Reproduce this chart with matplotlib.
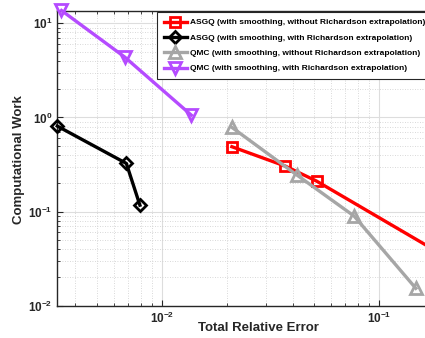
import math
import matplotlib
matplotlib.use("Agg")
import matplotlib.pyplot as plt
from matplotlib.ticker import LogLocator, FuncFormatter, NullFormatter

plt.rcParams['font.family'] = ['Liberation Sans', 'DejaVu Sans']
plt.rcParams['font.weight'] = 'bold'
plt.rcParams['mathtext.fontset'] = 'custom'
plt.rcParams['mathtext.rm'] = 'Liberation Sans:bold'
plt.rcParams['mathtext.bf'] = 'Liberation Sans:bold'
plt.rcParams['mathtext.it'] = 'Liberation Sans:bold'

# Data
asgq_err = [0.0210, 0.0369, 0.0515, 0.45]
asgq_work = [0.489, 0.305, 0.211, 0.0113]
asgq_rich_err = [0.0033, 0.00686, 0.00792]
asgq_rich_work = [0.81, 0.325, 0.117]
qmc_err = [0.0210, 0.0419, 0.0767, 0.1475]
qmc_work = [0.785, 0.244, 0.0896, 0.0153]
qmc_rich_err = [0.00345, 0.00674, 0.01365]
qmc_rich_work = [13.7, 4.39, 1.06]

labels = [
    "ASGQ (with smoothing, without Richardson extrapolation)",
    "ASGQ (with smoothing, with Richardson extrapolation)",
    "QMC (with smoothing, without Richardson extrapolation)",
    "QMC (with smoothing, with Richardson extrapolation)",
]
colors = ["#FF0000", "#000000", "#A6A6A6", "#B54BFF"]
markers = ["s", "D", "^", "v"]
msizes = [6.5, 6, 8, 8.5]

W, H = 425, 338
fig = plt.figure(figsize=(W / 100, H / 100), dpi=100)
left_px, right_px, top_px, bottom_px = 57.3, 531.0, 10.5, 305.7
ax = fig.add_axes([left_px / W, 1 - bottom_px / H,
                   (right_px - left_px) / W, (bottom_px - top_px) / H])

series = [(asgq_err, asgq_work), (asgq_rich_err, asgq_rich_work),
          (qmc_err, qmc_work), (qmc_rich_err, qmc_rich_work)]
for (x, y), lab, c, m, ms in zip(series, labels, colors, markers, msizes):
    ax.plot(x, y, color=c, marker=m, markersize=ms, markerfacecolor='none',
            markeredgewidth=2.0, linewidth=2.4, label=lab, clip_on=False, zorder=3)

ax.set_xscale('log')
ax.set_yscale('log')
ax.set_xlim(0.0033, 0.5)
ax.set_ylim(0.01, 13.7)

fmt = FuncFormatter(lambda v, p: r'$\mathbf{10^{%d}}$' % round(math.log10(v)))
ax.xaxis.set_major_locator(LogLocator(base=10, numticks=10))
ax.yaxis.set_major_locator(LogLocator(base=10, numticks=10))
ax.xaxis.set_major_formatter(fmt)
ax.yaxis.set_major_formatter(fmt)
ax.xaxis.set_minor_formatter(NullFormatter())
ax.yaxis.set_minor_formatter(NullFormatter())

ax.grid(True, which='major', color='#DDDDDD', linewidth=0.8, linestyle='-')
ax.grid(True, which='minor', color='#CCCCCC', linewidth=0.6, linestyle=(0, (1, 2)))
ax.set_axisbelow(True)
ax.tick_params(which='both', direction='in', top=True, right=True,
               colors='#262626', labelsize=8.5)
ax.tick_params(which='major', length=4, width=0.8)
ax.tick_params(which='minor', length=2.5, width=0.6)
for s in ax.spines.values():
    s.set_color('#262626')
    s.set_linewidth(1.0)

fig.text(258 / W, 1 - 328 / H, 'Total Relative Error', fontsize=9.5, fontweight='bold',
         color='#262626', ha='center', va='center')
fig.text(19 / W, 1 - 160 / H, 'Computational Work', fontsize=9.5, fontweight='bold',
         color='#262626', ha='center', va='center', rotation=90)

leg = ax.legend(loc='upper left', bbox_to_anchor=(157 / W, 1 - 12 / H),
                bbox_transform=fig.transFigure, fontsize=6.0, frameon=True,
                fancybox=False, edgecolor='#262626', framealpha=1,
                handlelength=2.8, handletextpad=0.4, labelspacing=0.9,
                borderpad=0.8, borderaxespad=0)
leg.get_frame().set_linewidth(0.8)
for t in leg.get_texts():
    t.set_fontweight('bold')

fig.savefig('out.png', dpi=100)
